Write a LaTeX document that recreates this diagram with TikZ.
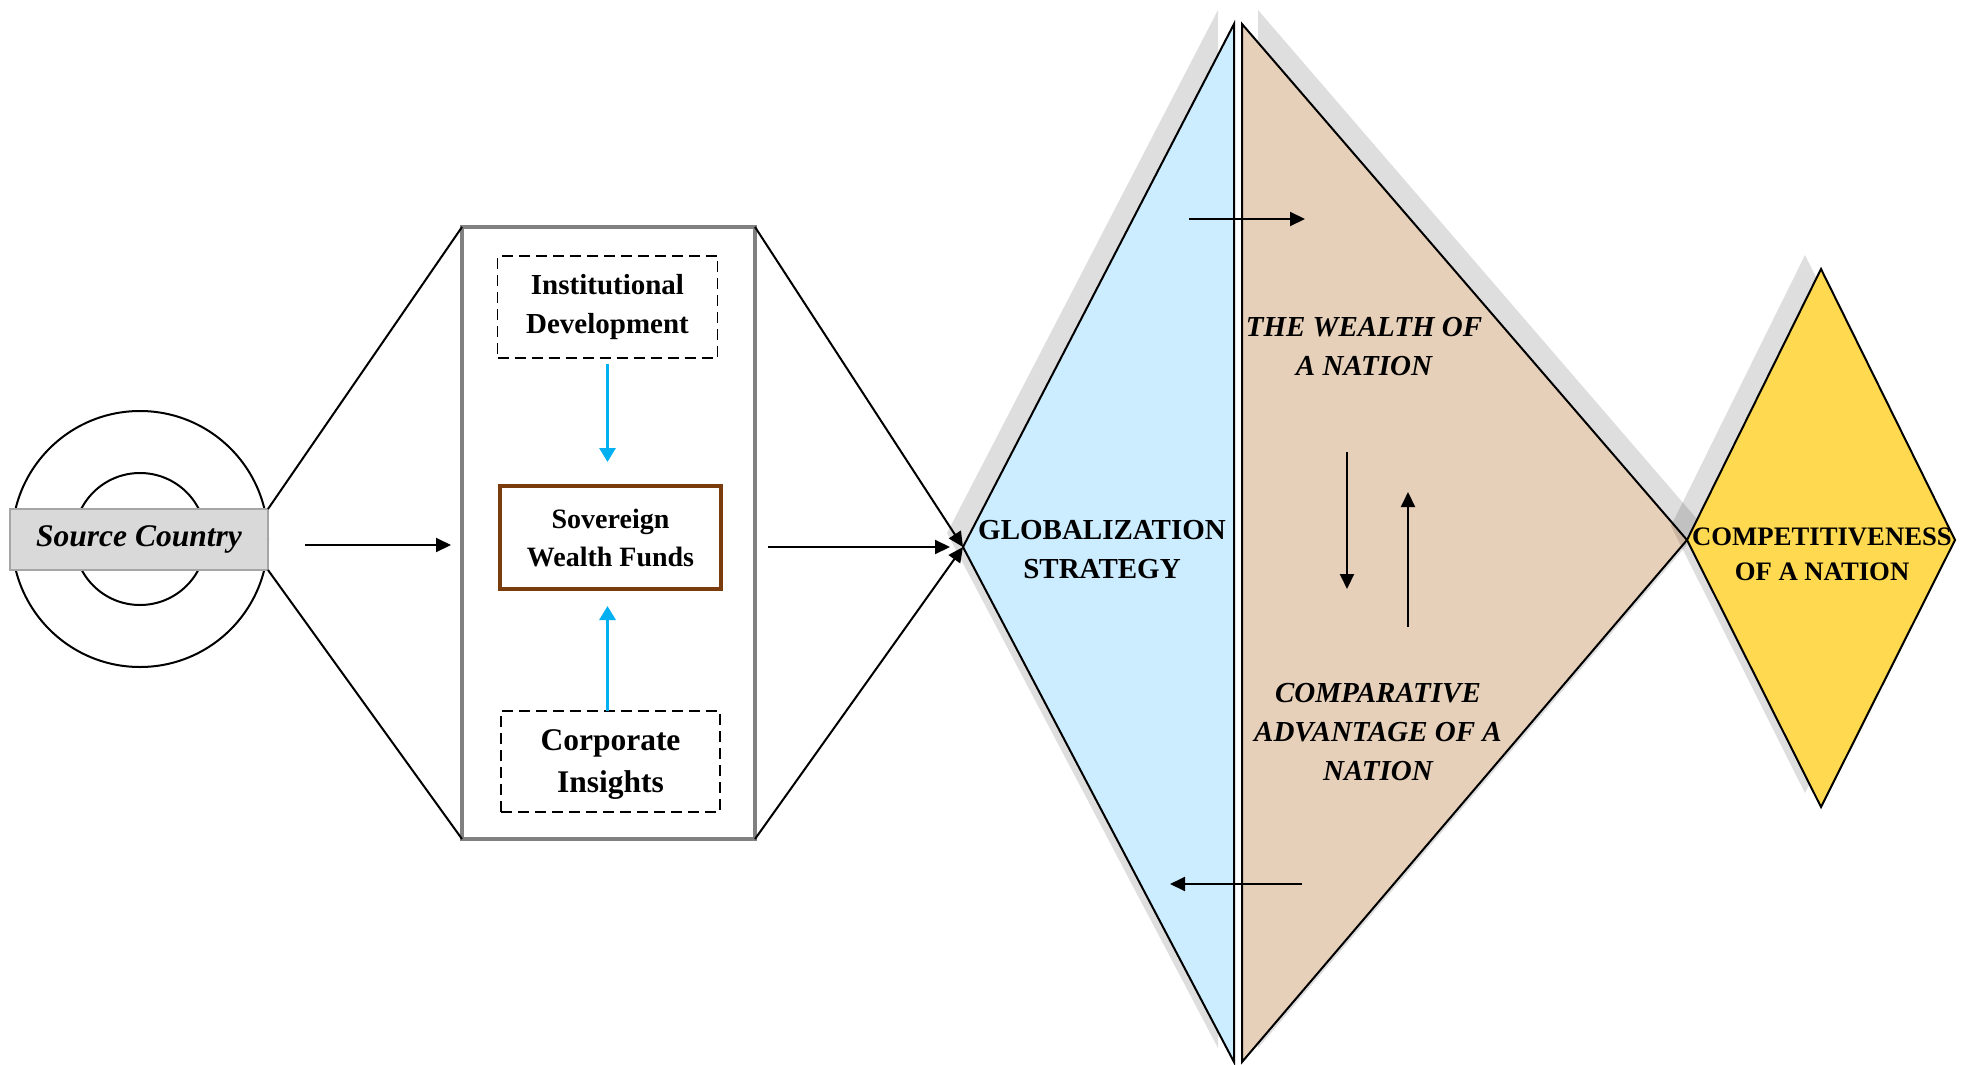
\documentclass[tikz,border=0pt]{standalone}
\usepackage{fontspec}
\setmainfont{Liberation Serif}
\usetikzlibrary{arrows.meta}
\definecolor{blueF}{RGB}{204,236,255}
\definecolor{tanF}{RGB}{231,208,185}
\definecolor{goldF}{RGB}{255,217,80}
\definecolor{swfB}{RGB}{122,60,12}
\definecolor{cyanA}{RGB}{0,176,240}
\definecolor{srcF}{RGB}{217,217,217}
\definecolor{srcB}{RGB}{166,166,166}
\definecolor{boxB}{RGB}{128,128,128}
\begin{document}
\begin{tikzpicture}[x=1pt,y=-1pt,
  ln/.style={line width=2pt, black},
  arr/.style={ln, -{Triangle[length=15pt,width=14pt]}},
  carr/.style={line width=3pt, cyanA, -{Triangle[length=14pt,width=16pt]}},
  shad/.style={fill=black, fill opacity=0.13, draw=none},
  tri/.style={draw=black, line width=2pt, line join=miter},
  tx/.style={font=\fontsize{29}{39}\selectfont\bfseries, align=center, inner sep=0pt},
  txi/.style={font=\fontsize{29}{39}\selectfont\bfseries\itshape, align=center, inner sep=0pt},
  dbox/.style={draw, line width=1.8pt, dash pattern=on 11pt off 6pt, inner sep=0pt, outer sep=0pt}]

\useasboundingbox (0,0) rectangle (1970,1065);
\fill[white] (0,0) rectangle (1970,1065);

% triangle vertices
\coordinate (gT) at (1234,24);
\coordinate (gL) at (963,547);
\coordinate (gB) at (1234,1062);
\coordinate (wT) at (1242,24);
\coordinate (wB) at (1242,1062);
\coordinate (wR) at (1687,540);
\coordinate (cT) at (1821,269);
\coordinate (cL) at (1687,540);
\coordinate (cB) at (1821,807);
\coordinate (cR) at (1955,540);

% globalization triangle
\fill[shad] ([shift={(-16,-14)}]gT) -- ([shift={(-16,-14)}]gL) -- ([shift={(-16,-14)}]gB) -- cycle;
\filldraw[tri, fill=blueF] (gT) -- (gL) -- (gB) -- cycle;
% wealth triangle
\fill[shad] ([shift={(16,-14)}]wT) -- ([shift={(16,-14)}]wR) -- ([shift={(16,-14)}]wB) -- cycle;
\filldraw[tri, fill=tanF] (wT) -- (wR) -- (wB) -- cycle;
% competitiveness diamond
\fill[shad] ([shift={(-16,-14)}]cT) -- ([shift={(-16,-14)}]cL) -- ([shift={(-16,-14)}]cB) -- ([shift={(-16,-14)}]cR) -- cycle;
\filldraw[tri, fill=goldF] (cT) -- (cL) -- (cB) -- (cR) -- cycle;

% source country
\draw[ln] (140,539) circle[radius=128];
\draw[ln] (140,539) circle[radius=66];
\node[draw=srcB, fill=srcF, line width=2pt, minimum width=258pt, minimum height=61pt,
      inner sep=0pt, outer sep=0pt, font=\fontsize{31.5}{36}\selectfont\bfseries\itshape]
      (src) at (139,539.5) {Source Country};

% middle box
\node[draw=boxB, line width=3.5pt, minimum width=293pt, minimum height=612pt, inner sep=0pt, outer sep=0pt]
      (mid) at (608.5,533) {};

\node[dbox, minimum width=220pt, minimum height=102pt] (inst) at (607.5,307) {};
\node[tx] at (inst.center) {Institutional\\Development};
\node[draw=swfB, line width=3.5pt, minimum width=221pt, minimum height=103pt, inner sep=0pt, outer sep=0pt]
      (swf) at (610.5,537.5) {};
\node[font=\fontsize{28}{38}\selectfont\bfseries, align=center, inner sep=0pt] at (swf.center) {Sovereign\\Wealth Funds};
\node[dbox, minimum width=219pt, minimum height=101pt] (corp) at (610.5,761.5) {};
\node[font=\fontsize{31.5}{42}\selectfont\bfseries, align=center, inner sep=0pt] at ([yshift=-3pt]corp.center) {Corporate\\Insights};

\draw[carr, shorten <=6pt, shorten >=24pt] (inst.south) -- (inst.south |- swf.north);
\draw[carr, shorten >=17pt] (corp.north -| inst.south) -- (inst.south |- swf.south);

% connectors
\draw[ln] (src.north east) -- (mid.north west);
\draw[ln] (src.south east) -- (mid.south west);
\draw[arr] (mid.north east) -- (gL);
\draw[arr] (mid.south east) -- (gL);
\coordinate (a1s) at (305,545);
\draw[arr, shorten >=11pt] (a1s) -- (a1s -| mid.west);
\coordinate (a2s) at (768,547);
\draw[arr, shorten >=13pt] (a2s) -- (gL);

% texts in the shapes
\node[tx] (glob) at (1102,550) {GLOBALIZATION\\STRATEGY};
\node[txi] (wealth) at (1364,347) {THE WEALTH OF\\A NATION};
\node[txi] (compa) at (1378,732) {COMPARATIVE\\ADVANTAGE OF A\\NATION};
\node[font=\fontsize{26.7}{35}\selectfont\bfseries, align=center, inner sep=0pt] (compet) at (1822,554)
     {COMPETITIVENESS\\OF A NATION};

% arrows inside
\coordinate (h1s) at (1189,219); \coordinate (h1e) at (1305,219);
\coordinate (h2s) at (1302,884); \coordinate (h2e) at (1170,884);
\coordinate (v1s) at (1347,452); \coordinate (v1e) at (1347,589);
\coordinate (v2s) at (1408,627); \coordinate (v2e) at (1408,492);
\draw[arr] (h1s) -- (h1e);
\draw[arr] (h2s) -- (h2e);
\draw[arr] (v1s) -- (v1e);
\draw[arr] (v2s) -- (v2e);
\end{tikzpicture}
\end{document}
